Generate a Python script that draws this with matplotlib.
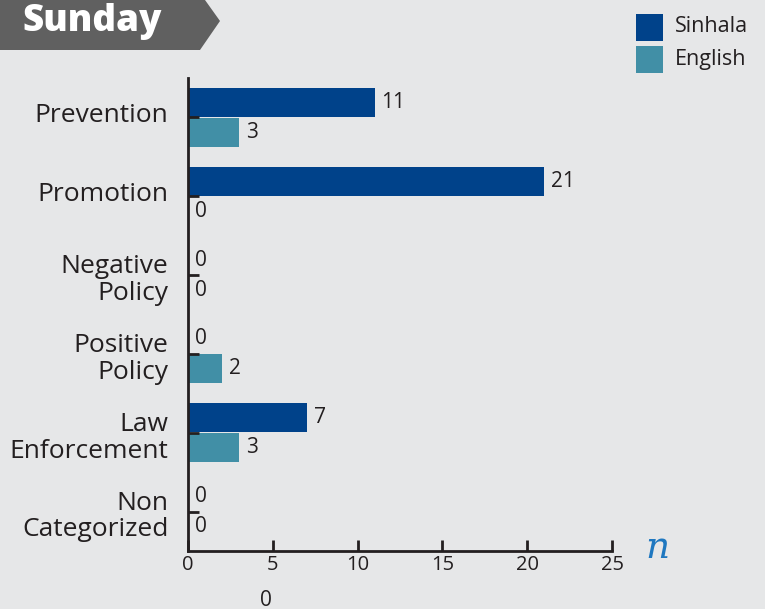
import numpy as np
from matplotlib import pyplot as plt
from matplotlib.patches import Polygon
from matplotlib.transforms import ScaledTranslation

categories = ['Prevention', 'Promotion', 'Negative\nPolicy', 'Positive\nPolicy',
              'Law\nEnforcement', 'Non\nCategorized']
sinhala = [11, 21, 0, 0, 7, 0]
english = [3, 0, 0, 2, 3, 0]
xticks = [0, 5, 10, 15, 20, 25]

bg = '#e6e7e8'
txt = '#231f20'
c_sin = '#00428a'
c_eng = '#418fa6'

plt.rcParams['font.family'] = ['Open Sans', 'DejaVu Sans']

fig = plt.figure(figsize=(7.65, 6.09), dpi=100, facecolor=bg)
W, H = 765, 609
ax = fig.add_axes([188 / W, (H - 551) / H, (612 - 188) / W, (551 - 78) / H])
ax.set_facecolor(bg)

y = np.arange(len(categories))
h = 0.37
ax.barh(y - 0.19, sinhala, height=h, color=c_sin, label='Sinhala')
ax.barh(y + 0.19, english, height=h, color=c_eng, label='English')

for i in range(len(categories)):
    for val, off in ((sinhala[i], -0.19), (english[i], 0.19)):
        ax.annotate(str(val), (val, y[i] + off), xytext=(5, 0), textcoords='offset points',
                    va='center', ha='left', fontsize=15, color=txt)

ax.set_xlim(0, 25)
ax.set_ylim(len(categories) - 0.5, -0.5)
ax.set_xticks(xticks)
ax.set_yticks(y)
ax.set_yticklabels(categories, fontsize=19, color=txt, ha='right', multialignment='right',
                   linespacing=1.1)
ax.tick_params(axis='x', direction='in', length=8, width=2, color=txt, labelsize=14.5,
               labelcolor=txt, pad=3)
ax.tick_params(axis='y', direction='in', length=8, width=2, color=txt, pad=14)
for lab in ax.get_yticklabels():
    if '\n' not in lab.get_text():
        lab.set_transform(lab.get_transform() + ScaledTranslation(0, 5 / 100, fig.dpi_scale_trans))
    else:
        lab.set_transform(lab.get_transform() + ScaledTranslation(0, -1 / 100, fig.dpi_scale_trans))
for s in ['top', 'right']:
    ax.spines[s].set_visible(False)
for s in ['left', 'bottom']:
    ax.spines[s].set_linewidth(2)
    ax.spines[s].set_color(txt)

# banner
banner = Polygon([(0, 1), (205 / W, 1), (220 / W, 1 - 21 / H), (200 / W, 1 - 50 / H), (0, 1 - 50 / H)],
                 closed=True, transform=fig.transFigure, facecolor='#606060', edgecolor='none')
fig.patches.append(banner)
fig.text(22 / W, 1 - 22 / H, 'Sunday', color='white', fontsize=26.5, fontweight='heavy',
         va='center', ha='left')

# legend
fig.patches.append(plt.Rectangle((636 / W, 1 - 41 / H), 27 / W, 27 / H, transform=fig.transFigure,
                                 facecolor=c_sin, edgecolor='none'))
fig.patches.append(plt.Rectangle((636 / W, 1 - 73 / H), 27 / W, 27 / H, transform=fig.transFigure,
                                 facecolor=c_eng, edgecolor='none'))
fig.text(675 / W, 1 - 27 / H, 'Sinhala', fontsize=15.5, color=txt, va='center')
fig.text(675 / W, 1 - 59 / H, 'English', fontsize=15.5, color=txt, va='center')

fig.text(657 / W, 1 - 548 / H, 'n', fontsize=27, color='#1f78c0', style='italic',
         family='DejaVu Serif', ha='center', va='center')
fig.text(266 / W, 1 - 600 / H, '0', fontsize=15, color=txt, ha='center', va='center')

fig.savefig('out.png', dpi=100, facecolor=bg)
